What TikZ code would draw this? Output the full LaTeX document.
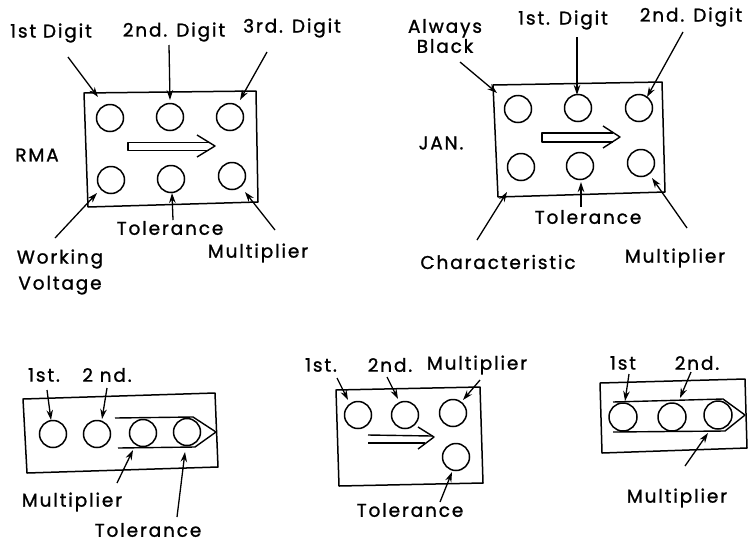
\documentclass[tikz,border=0pt]{standalone}
\usepackage{fontspec}
\newfontfamily\platefont{Poppins}[LetterSpace=10, FakeBold=1.2]
\usetikzlibrary{arrows.meta,positioning}

\begin{document}
\begin{tikzpicture}[
  x=1pt,
  y=-1pt,
  >=Stealth,
  label/.style={font=\platefont\fontsize{18.5}{20}\selectfont, inner sep=0pt, align=center},
  panel/.style={line width=1.5pt, line join=round},
  dot/.style={draw, circle, minimum size=27pt, inner sep=0pt, line width=1.5pt},
  pointer/.style={-{Stealth[length=10pt,width=6.5pt]}, line width=1.3pt},
  band/.style={line width=1.4pt, line join=round}
]
  \useasboundingbox (0,0) rectangle (751,544);

  % RMA
  \draw[panel] (84,93) -- (256,91) -- (258,202) -- (88,207) -- cycle;
  \node[dot] (r1) at (110,118) {};
  \node[dot] (r2) at (170,117) {};
  \node[dot] (r3) at (230,117) {};
  \node[dot] (r4) at (111,180) {};
  \node[dot] (r5) at (171,179) {};
  \node[dot] (r6) at (232,176) {};
  \draw[band] (209,142.5) -- (128,142.5) -- (128,150.5) -- (209,150.5);
  \draw[band] (197,135) -- (215,146) -- (197,157);
  \node[label] (rma) at (37,155) {RMA};
  \node[label] (rd1) at (51,33) {1st Digit};
  \node[label] (rd2) at (174,32) {2nd. Digit};
  \node[label] (rd3) at (292,28) {3rd. Digit};
  \node[label] (rtol) at (170,228) {Tolerance};
  \node[label] (rwv) at (60,272) {Working\\[6pt]Voltage};
  \node[label] (rmul) at (258,253) {Multiplier};
  \coordinate (ra1) at (68,57);   \coordinate (rb1) at (98,97);
  \coordinate (ra2) at (169,45);  \coordinate (rb2) at (170,100);
  \coordinate (ra3) at (267,52);  \coordinate (rb3) at (240,100);
  \coordinate (ra4) at (55,238);  \coordinate (rb4) at (97,193);
  \coordinate (ra5) at (173,220); \coordinate (rb5) at (172,193);
  \coordinate (ra6) at (275,230); \coordinate (rb6) at (245,192);
  \foreach \i in {1,...,6}
    \draw[pointer] (ra\i) -- (rb\i);

  % JAN
  \draw[panel] (493,85) -- (662,82) -- (665,192) -- (498,197) -- cycle;
  \node[dot] (j1) at (518,109) {};
  \node[dot] (j2) at (578,108) {};
  \node[dot] (j3) at (639,108) {};
  \node[dot] (j4) at (521,167) {};
  \node[dot] (j5) at (580,166) {};
  \node[dot] (j6) at (641,163) {};
  \draw[band] (613,133) -- (542,133) -- (542,142) -- (613,142);
  \draw[band] (603,126) -- (620,137) -- (603,148);
  \node[label] (jan) at (441,143) {JAN.};
  \node[label] (jab) at (445,36) {Always\\Black};
  \node[label] (jd1) at (563,20) {1st. Digit};
  \node[label] (jd2) at (691,17) {2nd. Digit};
  \node[label] (jtol) at (588,217) {Tolerance};
  \node[label] (jchar) at (498,262) {Characteristic};
  \node[label] (jmul) at (675,258) {Multiplier};
  \coordinate (ja1) at (460,62);  \coordinate (jb1) at (497,93);
  \coordinate (ja2) at (577,37);  \coordinate (jb2) at (577,95);
  \coordinate (ja3) at (683,32);  \coordinate (jb3) at (647,97);
  \coordinate (ja4) at (477,240); \coordinate (jb4) at (507,192);
  \coordinate (ja5) at (581,207); \coordinate (jb5) at (581,182);
  \coordinate (ja6) at (687,228); \coordinate (jb6) at (652,178);
  \foreach \i in {1,...,6}
    \draw[pointer] (ja\i) -- (jb\i);

  % four in a row
  \draw[panel] (23,399) -- (215,393) -- (218,467) -- (27,473) -- cycle;
  \node[dot] (a1) at (53,434) {};
  \node[dot] (a2) at (97,434) {};
  \node[dot] (a3) at (143,433) {};
  \node[dot] (a4) at (187,432) {};
  \draw[band] (115,418) -- (193,417) -- (216,432) -- (195,447) -- (118,448);
  \node[label] (a1st) at (44,375) {1st.};
  \node[label] (a2nd) at (107,375) {2 nd.};
  \node[label] (amul) at (72,502) {Multiplier};
  \node[label] (atol) at (148,530) {Tolerance};
  \coordinate (aa1) at (47,390);  \coordinate (ab1) at (51,420);
  \coordinate (aa2) at (107,388); \coordinate (ab2) at (102,419);
  \coordinate (aa3) at (117,483); \coordinate (ab3) at (133,450);
  \coordinate (aa4) at (177,517); \coordinate (ab4) at (185,452);
  \foreach \i in {1,...,4}
    \draw[pointer] (aa\i) -- (ab\i);

  % three and one
  \draw[panel] (336,390) -- (480,387) -- (483,483) -- (339,486) -- cycle;
  \node[dot] (b1) at (358,415) {};
  \node[dot] (b2) at (405,415) {};
  \node[dot] (b3) at (453,413) {};
  \node[dot] (b4) at (456,457) {};
  \draw[band] (368,435) -- (432,436);
  \draw[band] (368,443) -- (425,443);
  \draw[band] (418,427) -- (434,437) -- (418,449);
  \node[label] (b1st) at (321,365) {1st.};
  \node[label] (b2nd) at (390,365) {2nd.};
  \node[label] (bmul) at (477,365) {Multiplier};
  \node[label] (btol) at (410,510) {Tolerance};
  \coordinate (ba1) at (337,378); \coordinate (bb1) at (348,400);
  \coordinate (ba2) at (387,377); \coordinate (bb2) at (398,399);
  \coordinate (ba3) at (480,380); \coordinate (bb3) at (463,400);
  \coordinate (ba4) at (440,502); \coordinate (bb4) at (452,472);
  \foreach \i in {1,...,4}
    \draw[pointer] (ba\i) -- (bb\i);

  % three in a band
  \draw[panel] (600,383) -- (745,379) -- (747,448) -- (602,453) -- cycle;
  \node[dot, minimum size=28pt] (c1) at (623,417) {};
  \node[dot, minimum size=28pt] (c2) at (672,417) {};
  \node[dot, minimum size=28pt] (c3) at (718,415) {};
  \draw[band] (613,402) -- (723,399) -- (745,415) -- (725,431) -- (613,432);
  \node[label] (c1st) at (623,363) {1st};
  \node[label] (c2nd) at (697,363) {2nd.};
  \node[label] (cmul) at (677,498) {Multiplier};
  \coordinate (ca1) at (629,374); \coordinate (cb1) at (625,401);
  \coordinate (ca2) at (691,372); \coordinate (cb2) at (680,398);
  \coordinate (ca3) at (685,466); \coordinate (cb3) at (708,433);
  \foreach \i in {1,...,3}
    \draw[pointer] (ca\i) -- (cb\i);
\end{tikzpicture}
\end{document}
